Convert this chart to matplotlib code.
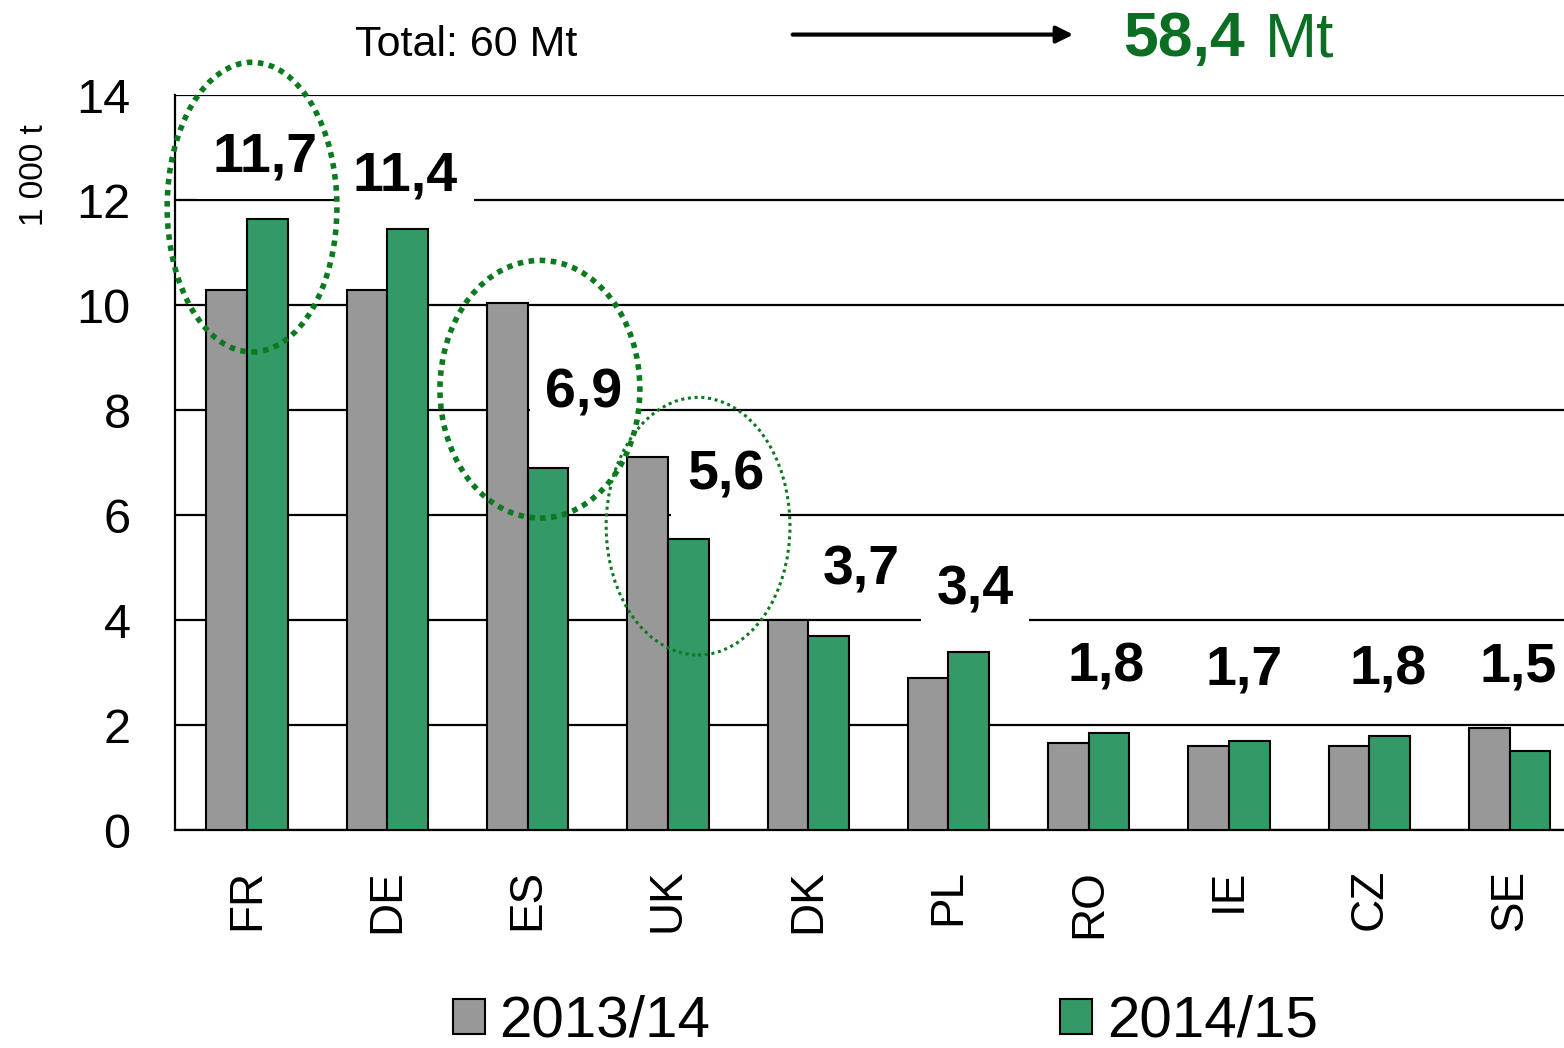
import matplotlib.pyplot as plt
from matplotlib.patches import Ellipse, Patch
import numpy as np

plt.rcParams['font.family'] = ['Liberation Sans', 'DejaVu Sans']

countries = ['FR', 'DE', 'ES', 'UK', 'DK', 'PL', 'RO', 'IE', 'CZ', 'SE']
values_1314 = [10.3, 10.3, 10.05, 7.1, 4.0, 2.9, 1.65, 1.6, 1.6, 1.95]
values_1415 = [11.65, 11.45, 6.9, 5.55, 3.7, 3.4, 1.85, 1.7, 1.8, 1.5]
labels_1415 = ['11,7', '11,4', '6,9', '5,6', '3,7', '3,4', '1,8', '1,7', '1,8', '1,5']
series_names = ['2013/14', '2014/15']

# label placement (offsets from the green bar)
label_dx = [0.13, 0.13, 0.40, 0.41, 0.38, 0.19, 0.12, 0.11, 0.13, 0.06]
label_dy = [1.17, 1.0, 1.42, 1.2, 1.25, 1.17, 1.24, 1.34, 1.24, 1.6]

gray = '#989898'
green = '#339966'
dark_green = '#0B7A1E'

fig = plt.figure(figsize=(15.64, 10.48), dpi=100)
ax = fig.add_axes([0.1119, 0.208, 0.8881, 0.701])

x = np.arange(len(countries))
w = 0.29
ax.bar(x - w / 2, values_1314, w, color=gray, edgecolor='black', linewidth=1.5, zorder=3)
ax.bar(x + w / 2, values_1415, w, color=green, edgecolor='black', linewidth=1.5, zorder=3)

ax.set_xlim(-0.513, 9.387)
ax.set_ylim(0, 14)
ax.set_yticks(range(0, 15, 2))
ax.yaxis.grid(True, color='black', linewidth=1.6, zorder=0)
ax.set_axisbelow(True)
for s in ['top', 'right']:
    ax.spines[s].set_visible(False)
ax.spines['left'].set_linewidth(1.6)
ax.spines['bottom'].set_linewidth(1.6)
ax.tick_params(axis='y', length=0, pad=32, labelsize=35)
ax.tick_params(axis='x', length=0, pad=28, labelsize=33)
ax.set_xticks(x)
ax.set_xticklabels(countries, rotation=90)

for i, lab in enumerate(labels_1415):
    ax.text(i + label_dx[i], values_1415[i] + label_dy[i], lab, ha='center', va='center',
            fontsize=40, fontweight='bold', zorder=4, clip_on=False,
            bbox=dict(facecolor='white', edgecolor='none', pad=11))

# highlight ellipses
ax.add_patch(Ellipse((0.036, 11.87), 1.21, 5.52, fill=False, edgecolor=dark_green,
                     linewidth=4, linestyle=(0, (1, 1)), zorder=5, clip_on=False))
ax.add_patch(Ellipse((2.088, 8.40), 1.425, 4.91, fill=False, edgecolor=dark_green,
                     linewidth=4, linestyle=(0, (1, 1)), zorder=5, clip_on=False))
ax.add_patch(Ellipse((3.215, 5.79), 1.31, 4.91, fill=False, edgecolor=dark_green,
                     linewidth=2.2, linestyle=(0, (1, 1.2)), zorder=5, clip_on=False))

fig.text(0.022, 0.833, '1 000 t', rotation=90, ha='center', va='center', fontsize=24)
fig.text(0.227, 0.957, 'Total: 60 Mt', ha='left', va='center', fontsize=31)
ax.annotate('', xy=(0.688, 0.967), xytext=(0.505, 0.967), xycoords='figure fraction',
            arrowprops=dict(arrowstyle='-|>', color='black', lw=3, mutation_scale=25))
fig.text(0.718, 0.962, '58,4', ha='left', va='center', fontsize=45, fontweight='bold', color='#0B6E23')
fig.text(0.809, 0.962, 'Mt', ha='left', va='center', fontsize=45, color='#0B6E23')

handles = [Patch(facecolor=gray, edgecolor='black', linewidth=1.5),
           Patch(facecolor=green, edgecolor='black', linewidth=1.5)]
fig.legend(handles, series_names, loc='center', bbox_to_anchor=(0.566, 0.025), ncol=2,
           frameon=False, fontsize=42, handlelength=0.55, handleheight=0.55,
           handletextpad=0.25, columnspacing=6.0)

fig.savefig('out.png', dpi=100)
